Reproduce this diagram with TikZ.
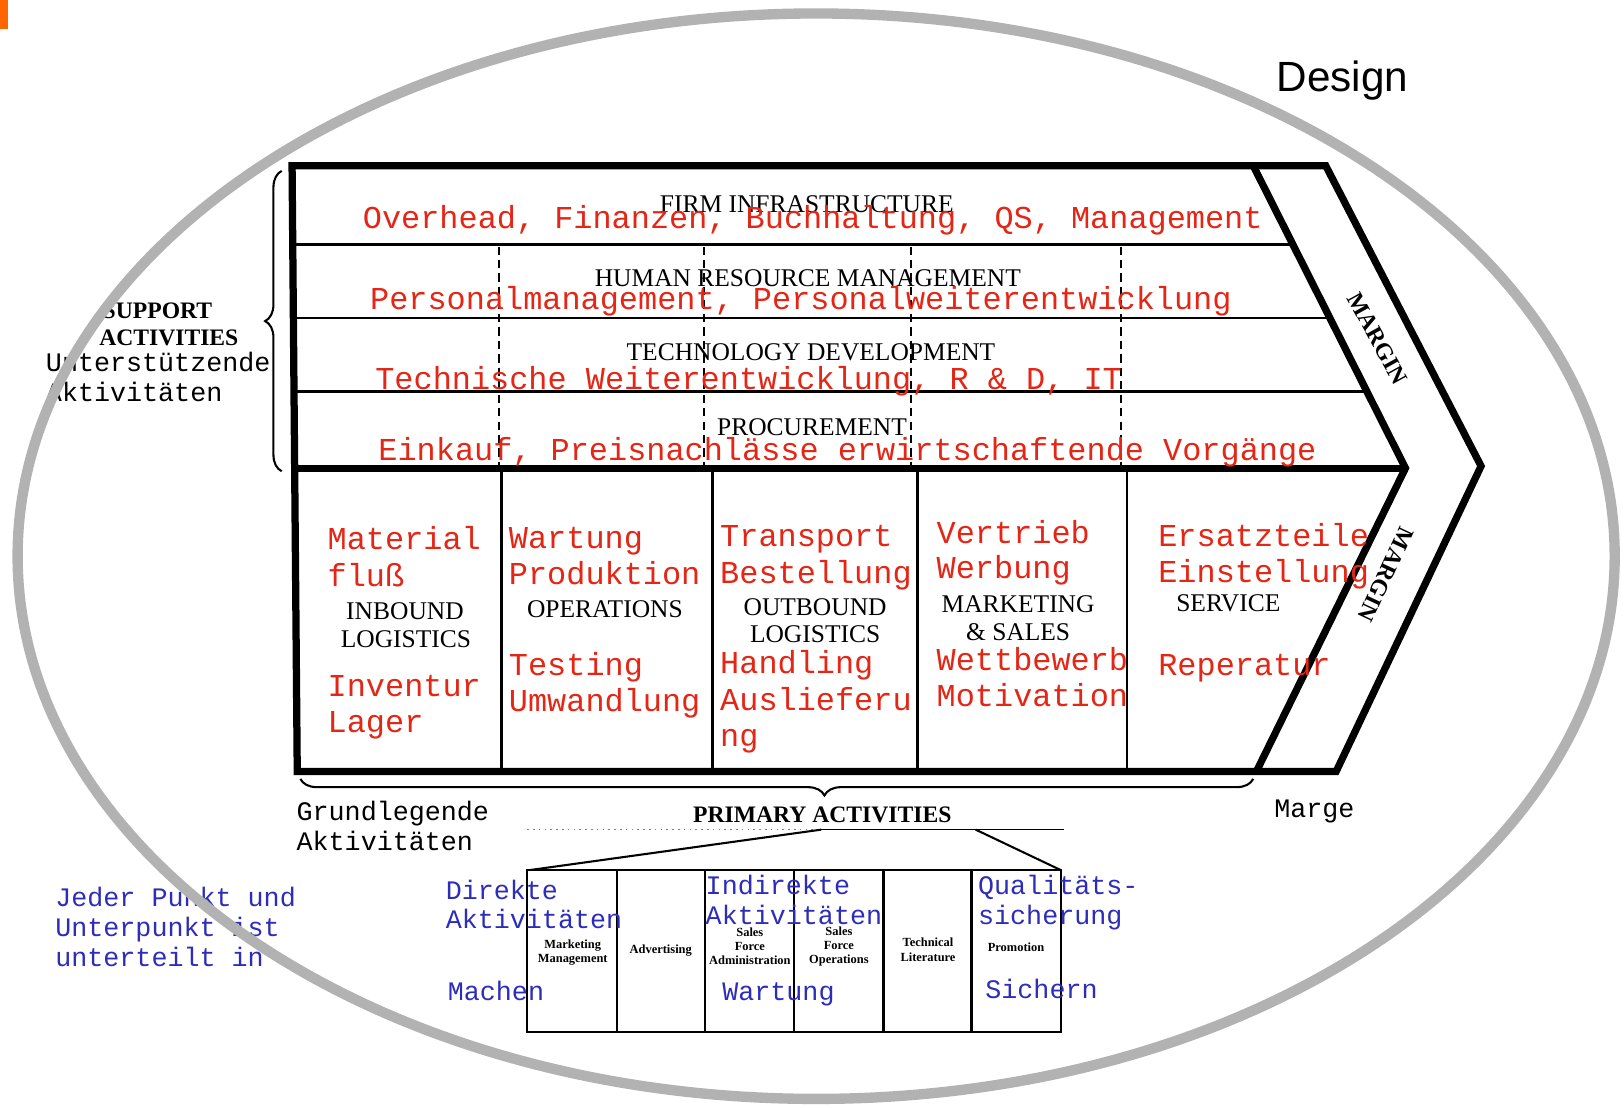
\documentclass[tikz,border=0pt]{standalone}
\usepackage{fontspec}
\setmainfont{Liberation Serif}
\newfontfamily\chartmono{Liberation Mono}
\newfontfamily\chartsans{Liberation Sans}
\usetikzlibrary{decorations.pathreplacing}
\definecolor{vcred}{RGB}{228,38,22}
\definecolor{vcblue}{RGB}{45,45,185}
\definecolor{ringgray}{RGB}{178,178,178}
\definecolor{logoorange}{RGB}{255,102,0}
\tikzset{
  redtxt/.style={anchor=base west, inner sep=0, text=vcred, font=\chartmono\fontsize{15.4}{17}\selectfont},
  bluetxt/.style={anchor=base west, inner sep=0, text=vcblue, font=\chartmono\fontsize{12.9}{14}\selectfont},
  blktxt/.style={anchor=base west, inner sep=0, font=\chartmono\fontsize{12.9}{14}\selectfont},
  capstxt/.style={inner sep=0, font=\fontsize{12.3}{14}\selectfont},
  boldcaps/.style={inner sep=0, font=\bfseries\fontsize{11.4}{13}\selectfont},
  subtxt/.style={inner sep=0, align=center, font=\bfseries\fontsize{6}{6.8}\selectfont},
  chainframe/.style={line width=3.5pt, line join=miter},
  rowline/.style={line width=1.2pt},
  supdash/.style={line width=1pt, dash pattern=on 4pt off 2.5pt},
  subbox/.style={line width=1pt},
  bracket/.style={line width=1pt, decorate},
}
\begin{document}
\begin{tikzpicture}[x=0.5pt, y=-0.5pt]
\useasboundingbox (0,0) rectangle (1568,1071);
\fill[logoorange] (0,0) rectangle (8,28);
\node[font=\chartsans\fontsize{20.4}{24}\selectfont] (design) at (1296,78) {Design};

% value chain frame
\coordinate (tl) at (282,160);
\coordinate (bl) at (287,745);
\coordinate (otop) at (1280,160);
\coordinate (otip) at (1430,450);
\coordinate (obot) at (1290,745);
\coordinate (itop) at (1210,160);
\coordinate (itip) at (1357,452);
\coordinate (ibot) at (1213,745);
\coordinate (ml) at (285,452);
\draw[chainframe] (tl) -- (otop) -- (otip) -- (obot) -- (bl) -- cycle;
\draw[chainframe] (itop) -- (itip) -- (ibot);
\draw[chainframe] (ml) -- (itip);

% support rows
\draw[rowline] (285,236) -- (1248,236);
\draw[rowline] (285,307) -- (1284,307);
\draw[rowline] (285,378) -- (1320,378);
\draw[supdash] (482,238) -- (482,450);
\draw[supdash] (680,238) -- (680,450);
\draw[supdash] (880,238) -- (880,450);
\draw[supdash] (1082,238) -- (1082,450);

% primary columns
\draw[rowline] (484,452) -- (484,745);
\draw[rowline] (688,452) -- (688,745);
\draw[rowline] (886,452) -- (886,745);
\draw[rowline] (1088,452) -- (1088,745);

\node[capstxt] (firm) at (779,197) {FIRM INFRASTRUCTURE};
\node[redtxt] (firmde) at (350,221) {Overhead, Finanzen, Buchhaltung, QS, Management};
\node[capstxt] (hrm) at (780,269) {HUMAN RESOURCE MANAGEMENT};
\node[redtxt] (hrmde) at (357,299) {Personalmanagement, Personalweiterentwicklung};
\node[capstxt] (tech) at (783,340) {TECHNOLOGY DEVELOPMENT};
\node[redtxt] (techde) at (362,376) {Technische Weiterentwicklung, R \& D, IT};
\node[capstxt] (proc) at (784,412) {PROCUREMENT};
\node[redtxt] (procde) at (365,445) {Einkauf, Preisnachlässe erwirtschaftende Vorgänge};

\node[redtxt] (ib1) at (316,531) {Material};
\node[redtxt] (ib2) at (316,566) {fluß};
\node[capstxt] (ib) at (391,590) {INBOUND};
\node[capstxt] (ibl) at (392,617) {LOGISTICS};
\node[redtxt] (ib3) at (316,672) {Inventur};
\node[redtxt] (ib4) at (316,707) {Lager};

\node[redtxt] (op1) at (491,530) {Wartung};
\node[redtxt] (op2) at (491,564) {Produktion};
\node[capstxt] (op) at (584,588) {OPERATIONS};
\node[redtxt] (op3) at (491,652) {Testing};
\node[redtxt] (op4) at (491,687) {Umwandlung};

\node[redtxt] (ob1) at (695,528) {Transport};
\node[redtxt] (ob2) at (695,563) {Bestellung};
\node[capstxt] (ob) at (787,586) {OUTBOUND};
\node[capstxt] (obl) at (787,612) {LOGISTICS};
\node[redtxt] (ob3) at (695,650) {Handling};
\node[redtxt] (ob4) at (695,686) {Auslieferu};
\node[redtxt] (ob5) at (695,721) {ng};

\node[redtxt] (ms1) at (904,525) {Vertrieb};
\node[redtxt] (ms2) at (904,559) {Werbung};
\node[capstxt] (ms) at (983,583) {MARKETING};
\node[capstxt] (msl) at (983,610) {\& SALES};
\node[redtxt] (ms3) at (904,647) {Wettbewerb};
\node[redtxt] (ms4) at (904,682) {Motivation};

\node[redtxt] (sv1) at (1118,528) {Ersatzteile};
\node[redtxt] (sv2) at (1118,562) {Einstellung};
\node[capstxt] (sv) at (1186,582) {SERVICE};
\node[redtxt] (sv3) at (1118,652) {Reperatur};

\node[boldcaps, rotate=-61] (margin1) at (1330,327) {MARGIN};
\node[boldcaps, rotate=-115] (margin2) at (1338,555) {MARGIN};

% left labels
\draw[bracket, decoration={brace, amplitude=8pt, aspect=0.5}] (272,455) -- (272,165);
\node[boldcaps] (sup) at (152,300) {SUPPORT};
\node[boldcaps] (supact) at (163,326) {ACTIVITIES};
\node[blktxt] (supde1) at (44,359) {Unterstützende};
\node[blktxt] (supde2) at (44,388) {Aktivitäten};

% bottom labels
\draw[bracket, decoration={brace, amplitude=8pt, aspect=0.45}] (1210,752) -- (290,752);
\node[blktxt] (prde1) at (286,792) {Grundlegende};
\node[blktxt] (prde2) at (286,821) {Aktivitäten};
\node[boldcaps] (pract) at (794,787) {PRIMARY ACTIVITIES};
\node[blktxt] (marge) at (1230,789) {Marge};

% marketing and sales breakdown
\coordinate (ulstart) at (509,801);
\coordinate (ulmid) at (793,801);
\coordinate (ulright) at (942,801);
\coordinate (ulend) at (1027,801);
\draw[gray, line width=0.8pt, dotted] (ulstart) -- (ulmid);
\draw[line width=0.8pt] (ulmid) -- (ulend);
\draw[subbox] (509,840) rectangle (1024,996);
\draw[subbox] (ulmid) -- (512,840);
\draw[subbox] (ulright) -- (1024,840);
\draw[subbox] (596,840) -- (596,996);
\draw[subbox] (681,840) -- (681,996);
\draw[subbox] (767,840) -- (767,996);
\draw[subbox] (853,840) -- (853,996);
\draw[subbox] (938,840) -- (938,996);
\node[subtxt] (mm) at (553,920) {Marketing\\Management};
\node[subtxt] (adv) at (638,918) {Advertising};
\node[subtxt] (sfa) at (724,914) {Sales\\Force\\Administration};
\node[subtxt] (sfo) at (810,914) {Sales\\Force\\Operations};
\node[subtxt] (tl2) at (896,917) {Technical\\Literature};
\node[subtxt] (promo) at (981,915) {Promotion};

\node[bluetxt] (dir1) at (430,868) {Direkte};
\node[bluetxt] (dir2) at (430,896) {Aktivitäten};
\node[bluetxt] (ind1) at (681,864) {Indirekte};
\node[bluetxt] (ind2) at (681,893) {Aktivitäten};
\node[bluetxt] (qs1) at (944,864) {Qualitäts-};
\node[bluetxt] (qs2) at (944,893) {sicherung};
\node[bluetxt] (mach) at (432,966) {Machen};
\node[bluetxt] (wart) at (697,966) {Wartung};
\node[bluetxt] (sich) at (951,964) {Sichern};
\node[bluetxt] (note1) at (53,875) {Jeder Punkt und};
\node[bluetxt] (note2) at (53,904) {Unterpunkt ist};
\node[bluetxt] (note3) at (53,933) {unterteilt in};

% ring on top
\draw[ringgray, line width=5pt] (788,537) ellipse [x radius=385.5pt, y radius=262pt];
\end{tikzpicture}
\end{document}
